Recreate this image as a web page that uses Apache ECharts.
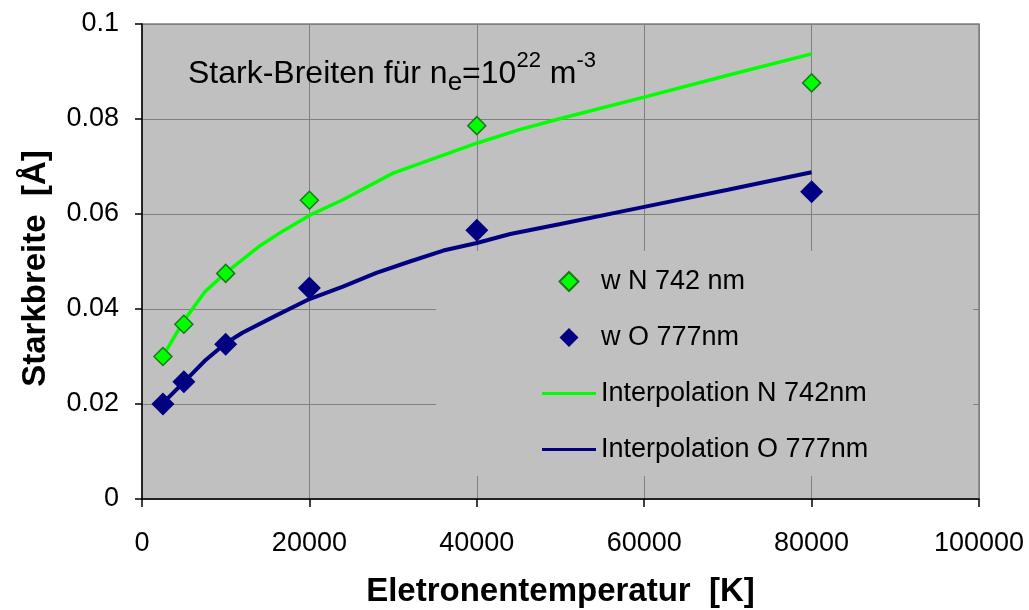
<!DOCTYPE html>
<html>
<head>
<meta charset="utf-8">
<script src="https://cdn.jsdelivr.net/npm/echarts@6/dist/echarts.min.js"></script>
<style>
html,body{margin:0;padding:0;background:#fff;}
#chart{width:1029px;height:610px;}
</style>
</head>
<body>
<div id="chart"></div>
<script>
// Measured temperatures [K]
const temperatures = [2500, 5000, 10000, 20000, 40000, 80000];
// Stark widths [Å]
const widthN742 = [0.0300, 0.0368, 0.0475, 0.0629, 0.0786, 0.0876];
const widthO777 = [0.0200, 0.0247, 0.0326, 0.0444, 0.0566, 0.0647];
// Interpolation curves
const interpNx = [2500, 5000, 7500, 10000, 14000, 17000, 20000, 24000, 30000, 36000, 40000, 45000, 50000, 60000, 70000, 80000];
const interpNy = [0.0301, 0.0375, 0.0436, 0.0476, 0.0532, 0.0566, 0.0597, 0.0630, 0.0686, 0.0724, 0.0749, 0.0777, 0.0801, 0.0846, 0.0892, 0.0937];
const interpOx = [2500, 5000, 7500, 10000, 12000, 16000, 20000, 24000, 28000, 32000, 36000, 40000, 44000, 50000, 60000, 70000, 80000];
const interpOy = [0.0202, 0.0246, 0.0291, 0.0328, 0.0350, 0.0386, 0.0421, 0.0447, 0.0476, 0.0500, 0.0523, 0.0539, 0.0558, 0.0579, 0.0615, 0.0651, 0.0688];
const seriesNames = ['w N 742 nm', 'w O 777nm', 'Interpolation N 742nm', 'Interpolation O 777nm'];

const zip = (xs, ys) => xs.map((x, i) => [x, ys[i]]);
const FONT = '"Liberation Sans", Arial, Helvetica, sans-serif';
const DIAMOND_ICON = 'path://M0,10 L10,0 L20,10 L10,20 Z';
const LINE_ICON = 'path://M0,0 L54,0 L54,3 L0,3 Z';

const chart = echarts.init(document.getElementById('chart'), null, {renderer: 'canvas'});
chart.setOption({
  animation: false,
  backgroundColor: '#ffffff',
  textStyle: {fontFamily: FONT},
  title: {
    left: 183, top: 45,
    text: '{a|Stark-Breiten für n}{sub|e}{a|=10}{sup|22}{a| m}{sup|-3}',
    textStyle: {
      fontWeight: 'normal',
      rich: {
        a: {fontSize: 32, fontWeight: 'normal', color: '#000', fontFamily: FONT, verticalAlign: 'bottom', lineHeight: 40},
        sub: {fontSize: 26, fontWeight: 'normal', color: '#000', fontFamily: FONT, verticalAlign: 'bottom', lineHeight: 40, padding: [0, 0, -6, 0]},
        sup: {fontSize: 22, fontWeight: 'normal', color: '#000', fontFamily: FONT, verticalAlign: 'top', lineHeight: 40, padding: [0, 0, 3, 0]}
      }
    }
  },
  grid: {
    left: 142, top: 24, right: 50, bottom: 111,
    outerBoundsMode: 'none',
    containLabel: false,
    show: true, backgroundColor: '#c0c0c0', borderColor: '#808080', borderWidth: 1.5
  },
  legend: {
    orient: 'vertical',
    left: 436, top: 251,
    z: 1,
    padding: [17, 105, 13, 106],
    itemGap: 29,
    itemWidth: 54, itemHeight: 19,
    symbolKeepAspect: true,
    backgroundColor: '#c0c0c0',
    data: [
      {name: seriesNames[0], icon: DIAMOND_ICON},
      {name: seriesNames[1], icon: DIAMOND_ICON},
      {name: seriesNames[2], icon: LINE_ICON},
      {name: seriesNames[3], icon: LINE_ICON}
    ],
    textStyle: {fontSize: 27, color: '#000', fontFamily: FONT}
  },
  xAxis: {
    type: 'value', min: 0, max: 100000, interval: 20000,
    name: 'Eletronentemperatur  [K]', nameLocation: 'middle', nameGap: 76,
    nameTextStyle: {fontSize: 33, fontWeight: 'bold', color: '#000', fontFamily: FONT},
    axisLine: {show: true, onZero: false, lineStyle: {color: '#000', width: 1.5}},
    axisTick: {show: true, inside: false, length: 8, lineStyle: {color: '#000', width: 1.5}},
    axisLabel: {fontSize: 27, color: '#000', margin: 31, fontFamily: FONT, formatter: v => String(v)},
    splitLine: {show: true, lineStyle: {color: '#808080', width: 1}}
  },
  yAxis: {
    type: 'value', min: 0, max: 0.1, interval: 0.02,
    name: 'Starkbreite  [Å]', nameLocation: 'middle', nameGap: 90,
    nameTextStyle: {fontSize: 33, fontWeight: 'bold', color: '#000', fontFamily: FONT, padding: [0, 14, 0, 0]},
    axisLine: {show: true, onZero: false, lineStyle: {color: '#000', width: 1.5}},
    axisTick: {show: true, inside: false, length: 7, lineStyle: {color: '#000', width: 1.5}},
    axisLabel: {fontSize: 27, color: '#000', margin: 23, fontFamily: FONT, formatter: v => String(+v.toFixed(2))},
    splitLine: {show: true, lineStyle: {color: '#808080', width: 1}}
  },
  series: [
    {
      name: seriesNames[2], type: 'line', data: zip(interpNx, interpNy),
      symbol: 'none', smooth: false,
      lineStyle: {color: '#00ff00', width: 3.5}, itemStyle: {color: '#00ff00'}, z: 2
    },
    {
      name: seriesNames[3], type: 'line', data: zip(interpOx, interpOy),
      symbol: 'none', smooth: false,
      lineStyle: {color: '#000080', width: 4}, itemStyle: {color: '#000080'}, z: 2
    },
    {
      name: seriesNames[0], type: 'scatter', data: zip(temperatures, widthN742),
      symbol: 'diamond', symbolSize: 18,
      itemStyle: {color: '#00ff00', borderColor: '#1a7a1a', borderWidth: 1.5, opacity: 1}, z: 3
    },
    {
      name: seriesNames[1], type: 'scatter', data: zip(temperatures, widthO777),
      symbol: 'diamond', symbolSize: 23,
      itemStyle: {color: '#000080', opacity: 1}, z: 3
    }
  ]
});
</script>
</body>
</html>
